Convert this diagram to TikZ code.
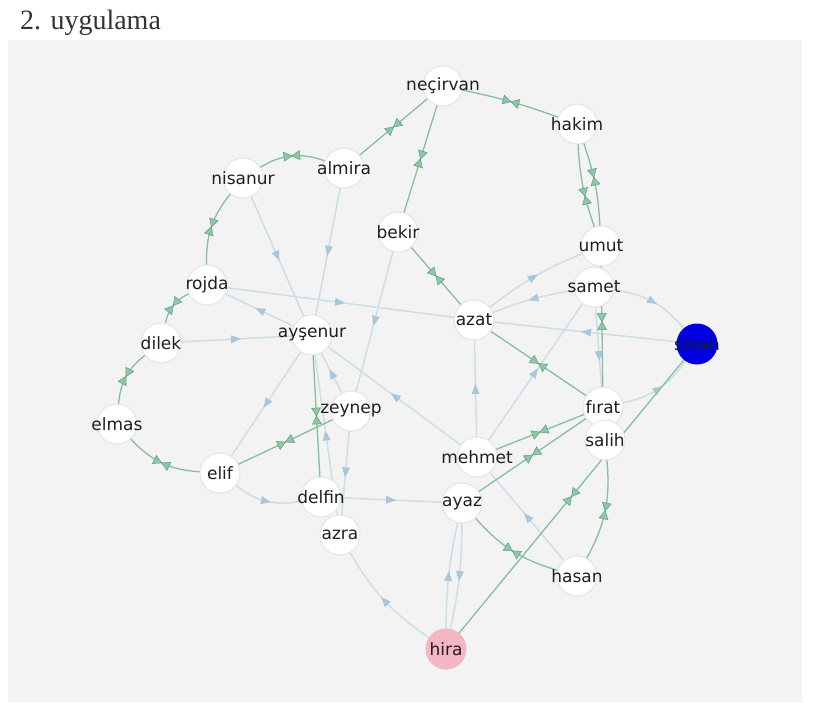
\documentclass[tikz,border=0pt]{standalone}
\usepackage{fontspec}
\setmainfont{Liberation Serif}
\newfontfamily\lblfont{DejaVu Sans}
\usetikzlibrary{decorations.markings}
\pgfdeclarelayer{bgl}
\pgfdeclarelayer{edgel}
\pgfsetlayers{bgl,edgel,main}
\definecolor{panel}{HTML}{F3F3F3}
\definecolor{bline}{HTML}{CCDFE8}
\definecolor{barrow}{HTML}{A6C8DA}
\definecolor{gline}{HTML}{86BE9F}
\definecolor{garrow}{HTML}{8CC7A6}
\definecolor{gdark}{HTML}{5E9F7E}
\definecolor{vborder}{HTML}{E4E4E4}
\definecolor{hirapink}{HTML}{F4B6C2}
\definecolor{sblue}{HTML}{0000E0}
\tikzset{
 vtx/.style={circle, minimum size=40pt, inner sep=0pt, outer sep=0pt, fill=white, draw=vborder, line width=1pt},
 bedge/.style={draw=bline, line width=1.5pt, postaction={decorate},
   decoration={markings, mark=at position #1 with {\fill[barrow] (4.5pt,0) -- (-5.5pt,4pt) -- (-5.5pt,-4pt) -- cycle;}}},
 bedge/.default=0.5,
 gedge/.style={draw=gline, line width=1.3pt, postaction={decorate},
   decoration={markings, mark=at position #1 with {\filldraw[fill=garrow, draw=gdark, line width=0.5pt] (0,0) -- (-8pt,4.5pt) -- (-8pt,-4.5pt) -- cycle (0,0) -- (8pt,4.5pt) -- (8pt,-4.5pt) -- cycle;}}},
 gedge/.default=0.5,
 every label/.style={font=\lblfont\fontsize{17}{20}\selectfont, text=black!88, inner sep=0pt},
}
\begin{document}
\begin{tikzpicture}[x=1pt, y=-1pt]
\useasboundingbox (0,0) rectangle (825,702);
\begin{pgfonlayer}{bgl}
\fill[white] (0,0) rectangle (825,702);
\fill[panel] (8,40) rectangle (802,702);
\end{pgfonlayer}
\node[anchor=base west, font=\fontsize{28}{32}\selectfont, text=black!80, inner sep=0pt] (title) at (20,29) {2. uygulama};

\node[vtx, label={center:neçirvan}] (necirvan) at (443,86) {};
\node[vtx, label={center:hakim}] (hakim) at (577,124) {};
\node[vtx, label={center:almira}] (almira) at (344,168) {};
\node[vtx, label={center:nisanur}] (nisanur) at (243,178) {};
\node[vtx, label={center:bekir}] (bekir) at (398,232) {};
\node[vtx, label={center:umut}] (umut) at (601,246) {};
\node[vtx, label={center:samet}] (samet) at (594,287) {};
\node[vtx, label={center:rojda}] (rojda) at (207,285) {};
\node[vtx, label={center:azat}] (azat) at (474,320) {};
\node[vtx, fill=sblue, draw=sblue, label={center:sinan}] (sinan) at (697,344) {};
\node[vtx, label={center:dilek}] (dilek) at (161,343) {};
\node[vtx, label={center:ayşenur}] (aysenur) at (312,335) {};
\node[vtx, label={center:zeynep}] (zeynep) at (351,411) {};
\node[vtx, label={center:fırat}] (firat) at (603,407) {};
\node[vtx, label={center:salih}] (salih) at (605,440) {};
\node[vtx, label={center:mehmet}] (mehmet) at (477,457) {};
\node[vtx, label={center:elmas}] (elmas) at (117,424) {};
\node[vtx, label={center:elif}] (elif) at (220,473) {};
\node[vtx, label={center:delfin}] (delfin) at (321,497) {};
\node[vtx, label={center:ayaz}] (ayaz) at (462,503) {};
\node[vtx, label={center:azra}] (azra) at (340,535) {};
\node[vtx, label={center:hasan}] (hasan) at (577,576) {};
\node[vtx, fill=hirapink, draw=hirapink, label={center:hira}] (hira) at (446,649) {};

\begin{pgfonlayer}{edgel}
% blue (one-way) edges
\draw[bedge] (nisanur) -- (aysenur);
\draw[bedge] (almira) -- (aysenur);
\draw[bedge] (rojda) -- (azat);
\draw[bedge] (aysenur) -- (rojda);
\draw[bedge] (dilek) -- (aysenur);
\draw[bedge] (bekir) -- (zeynep);
\draw[bedge] (mehmet) -- (aysenur);
\draw[bedge] (aysenur) -- (elif);
\draw[bedge] (zeynep) -- (aysenur);
\draw[bedge] (azra) -- (aysenur);
\draw[bedge] (zeynep) -- (azra);
\draw[bedge] (mehmet) -- (azat);
\draw[bedge] (samet) to[bend right=6] (azat);
\draw[bedge] (azat) to[bend left=8] (umut);
\draw[bedge] (sinan) -- (azat);
\draw[bedge] (samet) to[bend left=21] (sinan);
\draw[bedge] (firat) to[bend right=22] (sinan);
\draw[bedge] (mehmet) -- (samet);
\draw[bedge] (elif) to[bend right=25] (delfin);
\draw[bedge] (delfin) -- (ayaz);
\draw[bedge] (hira) to[bend left=13] (azra);
\draw[bedge] (ayaz) to[bend left=6] (hira);
\draw[bedge] (hira) to[bend left=6] (ayaz);
\draw[bedge] (hasan) -- (mehmet);
\draw[bedge=0.62] (samet) -- (firat);
% green (two-way) edges
\draw[gedge] (necirvan) to[bend left=4] (hakim);
\draw[gedge] (necirvan) -- (almira);
\draw[gedge] (necirvan) -- (bekir);
\draw[gedge] (nisanur) to[bend left=26] (almira);
\draw[gedge] (rojda) to[bend left=20] (nisanur);
\draw[gedge] (dilek) to[bend left=26] (rojda);
\draw[gedge] (elmas) to[bend left=24] (dilek);
\draw[gedge] (elif) to[bend left=22] (elmas);
\draw[gedge] (elif) -- (zeynep);
\draw[gedge] (aysenur) -- (delfin);
\draw[gedge] (bekir) -- (azat);
\draw[gedge=0.62] (hakim) to[bend right=8] (umut);
\draw[gedge=0.42] (hakim) to[bend left=8] (umut);
\draw[gedge=0.46] (umut) -- (firat);
\draw[gedge] (azat) -- (firat);
\draw[gedge] (mehmet) -- (firat);
\draw[gedge] (ayaz) -- (firat);
\draw[gedge] (salih) to[bend left=17] (hasan);
\draw[gedge] (ayaz) to[bend right=16] (hasan);
\draw[gedge] (hira) -- (sinan);
\end{pgfonlayer}
\end{tikzpicture}
\end{document}
